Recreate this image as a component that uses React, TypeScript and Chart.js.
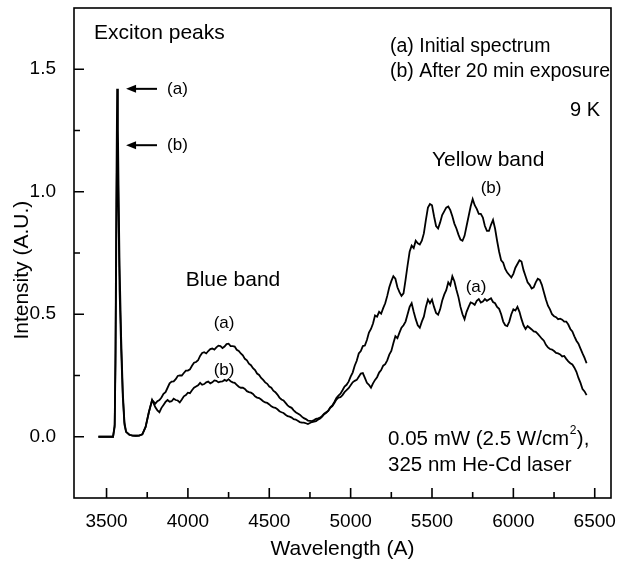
import { useEffect, useRef } from 'react';
import { Chart, registerables } from 'chart.js';

Chart.register(...registerables);

const FONT = '"Liberation Sans", Arial, Helvetica, sans-serif';

const WAVELENGTH = [
  3450, 3500, 3540, 3550, 3555, 3560, 3565, 3570, 3575, 3580, 3590, 3600, 3610, 3620, 3640, 3660, 3680, 3700, 3720, 3740, 3760, 3780,
  3800, 3812.5, 3825, 3837.5, 3850, 3862.5, 3875, 3887.5,
  3900, 3912.5, 3925, 3937.5, 3950, 3962.5, 3975, 3987.5,
  4000, 4012.5, 4025, 4037.5, 4050, 4062.5, 4075, 4087.5,
  4100, 4112.5, 4125, 4137.5, 4150, 4162.5, 4175, 4187.5,
  4200, 4212.5, 4225, 4237.5, 4250, 4262.5, 4275, 4287.5,
  4300, 4312.5, 4325, 4337.5, 4350, 4362.5, 4375, 4387.5,
  4400, 4412.5, 4425, 4437.5, 4450, 4462.5, 4475, 4487.5,
  4500, 4512.5, 4525, 4537.5, 4550, 4562.5, 4575, 4587.5,
  4600, 4612.5, 4625, 4637.5, 4650, 4662.5, 4675, 4687.5,
  4700, 4712.5, 4725, 4737.5, 4750, 4762.5, 4775, 4787.5,
  4800, 4812.5, 4825, 4837.5, 4850, 4862.5, 4875, 4887.5,
  4900, 4912.5, 4925, 4937.5, 4950, 4962.5, 4975, 4987.5,
  5000, 5012.5, 5025, 5037.5, 5050, 5062.5, 5075, 5087.5,
  5100, 5112.5, 5125, 5137.5, 5150, 5162.5, 5175, 5187.5,
  5200, 5212.5, 5225, 5237.5, 5250, 5262.5, 5275, 5287.5,
  5300, 5312.5, 5325, 5337.5, 5350, 5362.5, 5375, 5387.5,
  5400, 5412.5, 5425, 5437.5, 5450, 5462.5, 5475, 5487.5,
  5500, 5512.5, 5525, 5537.5, 5550, 5562.5, 5575, 5587.5,
  5600, 5612.5, 5625, 5637.5, 5650, 5662.5, 5675, 5687.5,
  5700, 5712.5, 5725, 5737.5, 5750, 5762.5, 5775, 5787.5,
  5800, 5812.5, 5825, 5837.5, 5850, 5862.5, 5875, 5887.5,
  5900, 5912.5, 5925, 5937.5, 5950, 5962.5, 5975, 5987.5,
  6000, 6012.5, 6025, 6037.5, 6050, 6062.5, 6075, 6087.5,
  6100, 6112.5, 6125, 6137.5, 6150, 6162.5, 6175, 6187.5,
  6200, 6212.5, 6225, 6237.5, 6250, 6262.5, 6275, 6287.5,
  6300, 6312.5, 6325, 6337.5, 6350, 6362.5, 6375, 6387.5,
  6400, 6412.5, 6425, 6437.5, 6450,
];

// (a) Initial spectrum
const SERIES_A = [
  0, 0, 0, 0.05, 0.35, 0.95, 1.42, 1.25, 0.95, 0.7, 0.4, 0.18, 0.06, 0.02, 0.008, 0.005, 0.004, 0.005, 0.01, 0.04, 0.1, 0.15,
  0.135, 0.145, 0.15, 0.16, 0.175, 0.182, 0.2, 0.218,
  0.225, 0.226, 0.235, 0.248, 0.25, 0.25, 0.26, 0.27,
  0.27, 0.275, 0.29, 0.302, 0.305, 0.312, 0.33, 0.342,
  0.345, 0.34, 0.35, 0.358, 0.36, 0.356, 0.365, 0.372,
  0.37, 0.362, 0.368, 0.378, 0.38, 0.37, 0.37, 0.368,
  0.355, 0.35, 0.34, 0.332, 0.318, 0.312, 0.298, 0.292,
  0.28, 0.272, 0.258, 0.252, 0.24, 0.232, 0.222, 0.216,
  0.205, 0.2, 0.188, 0.182, 0.172, 0.16, 0.152, 0.148,
  0.138, 0.128, 0.122, 0.118, 0.108, 0.1, 0.095, 0.09,
  0.082, 0.076, 0.072, 0.066, 0.065, 0.064, 0.068, 0.073,
  0.075, 0.078, 0.085, 0.094, 0.1, 0.106, 0.118, 0.125,
  0.138, 0.152, 0.16, 0.162, 0.17, 0.182, 0.19, 0.198,
  0.21, 0.222, 0.228, 0.232, 0.245, 0.258, 0.26, 0.24,
  0.22, 0.212, 0.2, 0.218, 0.232, 0.243, 0.262, 0.272,
  0.29, 0.296, 0.312, 0.335, 0.35, 0.382, 0.41, 0.402,
  0.425, 0.445, 0.455, 0.47, 0.5, 0.53, 0.545, 0.51,
  0.48, 0.455, 0.445, 0.47, 0.49, 0.53, 0.56, 0.545,
  0.56, 0.53, 0.505, 0.498, 0.52, 0.555, 0.58, 0.598,
  0.63, 0.618, 0.655, 0.635, 0.6, 0.57, 0.53, 0.5,
  0.48, 0.51, 0.53, 0.548, 0.545, 0.538, 0.555, 0.562,
  0.548, 0.552, 0.562, 0.555, 0.56, 0.565, 0.55, 0.545,
  0.53, 0.522, 0.5, 0.47, 0.455, 0.452, 0.47, 0.5,
  0.52, 0.515, 0.53, 0.51, 0.48, 0.455, 0.44, 0.452,
  0.445, 0.438, 0.43, 0.428, 0.42, 0.41, 0.4, 0.392,
  0.375, 0.365, 0.358, 0.356, 0.35, 0.342, 0.34, 0.336,
  0.328, 0.33, 0.318, 0.308, 0.3, 0.295, 0.282, 0.265,
  0.24, 0.22, 0.195, 0.185, 0.17,
];

// (b) After 20 min exposure
const SERIES_B = [
  0, 0, 0, 0.04, 0.3, 0.8, 1.2, 1.08, 0.84, 0.6, 0.35, 0.16, 0.05, 0.02, 0.008, 0.005, 0.004, 0.005, 0.01, 0.04, 0.1, 0.15,
  0.12, 0.108, 0.1, 0.118, 0.13, 0.142, 0.15, 0.143,
  0.145, 0.155, 0.15, 0.148, 0.14, 0.152, 0.165, 0.17,
  0.18, 0.178, 0.19, 0.2, 0.205, 0.21, 0.22, 0.212,
  0.215, 0.222, 0.225, 0.218, 0.222, 0.23, 0.228, 0.222,
  0.225, 0.226, 0.232, 0.228, 0.235, 0.226, 0.222, 0.22,
  0.212, 0.204, 0.2, 0.2, 0.195, 0.186, 0.182, 0.18,
  0.175, 0.165, 0.16, 0.158, 0.152, 0.145, 0.14, 0.138,
  0.132, 0.124, 0.12, 0.118, 0.112, 0.104, 0.1, 0.097,
  0.09, 0.084, 0.082, 0.078, 0.072, 0.07, 0.065, 0.06,
  0.058, 0.058, 0.055, 0.052, 0.056, 0.06, 0.062, 0.064,
  0.07, 0.074, 0.082, 0.092, 0.098, 0.106, 0.12, 0.128,
  0.142, 0.158, 0.168, 0.176, 0.19, 0.205, 0.212, 0.225,
  0.245, 0.262, 0.29, 0.31, 0.34, 0.35, 0.37, 0.372,
  0.395, 0.425, 0.44, 0.462, 0.495, 0.49, 0.51, 0.502,
  0.525, 0.545, 0.575, 0.61, 0.635, 0.655, 0.645, 0.61,
  0.59, 0.575, 0.585, 0.64, 0.7, 0.755, 0.78, 0.77,
  0.8, 0.79, 0.785, 0.8, 0.83, 0.885, 0.935, 0.95,
  0.945, 0.9, 0.86, 0.85, 0.875, 0.905, 0.92, 0.935,
  0.94, 0.925, 0.9, 0.87, 0.85, 0.825, 0.805, 0.8,
  0.82, 0.86, 0.9, 0.94, 0.97, 0.945, 0.93, 0.91,
  0.91, 0.895, 0.86, 0.84, 0.84, 0.865, 0.885, 0.85,
  0.8, 0.755, 0.72, 0.71, 0.685, 0.67, 0.66, 0.65,
  0.665, 0.69, 0.705, 0.72, 0.715, 0.68, 0.655, 0.63,
  0.62, 0.605, 0.61, 0.63, 0.645, 0.64, 0.62, 0.59,
  0.56, 0.535, 0.52, 0.5, 0.492, 0.488, 0.48, 0.482,
  0.478, 0.47, 0.47, 0.458, 0.44, 0.43, 0.41, 0.392,
  0.38, 0.36, 0.34, 0.322, 0.3,
];

const X_TICKS = [3500, 4000, 4500, 5000, 5500, 6000, 6500];
const Y_TICKS = [0, 0.5, 1.0, 1.5];
const X_MIN = 3300;
const X_MAX = 6600;
const Y_MIN = -0.25;
const Y_MAX = 1.75;

const Y_TITLE = { text: 'Intensity (A.U.)', y: 0.68, size: 21 };

type Note = { text: string; x: number; y: number; align: CanvasTextAlign; size: number };

const NOTES: Note[] = [
  { text: 'Exciton peaks', x: 3423, y: 1.647, align: 'left', size: 21 },
  { text: '(a) Initial spectrum', x: 5242, y: 1.594, align: 'left', size: 19.5 },
  { text: '(b) After 20 min exposure', x: 5242, y: 1.492, align: 'left', size: 19.5 },
  { text: '9 K', x: 6533, y: 1.333, align: 'right', size: 20 },
  { text: 'Yellow band', x: 5845, y: 1.129, align: 'center', size: 21 },
  { text: '(b)', x: 5863, y: 1.015, align: 'center', size: 17 },
  { text: '(a)', x: 5771, y: 0.611, align: 'center', size: 17 },
  { text: 'Blue band', x: 4277, y: 0.64, align: 'center', size: 21 },
  { text: '(a)', x: 4222, y: 0.465, align: 'center', size: 17 },
  { text: '(b)', x: 4222, y: 0.273, align: 'center', size: 17 },
  { text: '325 nm He-Cd laser', x: 5230, y: -0.118, align: 'left', size: 20.5 },
];

const ARROWS = [
  { label: '(a)', y: 1.42, from: 3810, to: 3620, textX: 3872 },
  { label: '(b)', y: 1.19, from: 3810, to: 3620, textX: 3872 },
];

const POWER_NOTE = { x: 5230, y: -0.012, size: 20.5 };

const font = (s: number) => `${s}px ${FONT}`;

const decorPlugin = {
  id: 'decor',
  afterDraw(chart: any) {
    const { ctx, chartArea: a, scales } = chart;
    const xs = scales.x;
    const ys = scales.y;
    ctx.save();
    ctx.strokeStyle = '#000';
    ctx.fillStyle = '#000';
    ctx.lineWidth = 1.6;
    ctx.strokeRect(a.left, a.top, a.right - a.left, a.bottom - a.top);
    const xt = xs.ticks.map((t: any) => t.value);
    const yt = ys.ticks.map((t: any) => t.value);
    ctx.beginPath();
    xt.forEach((v: number, i: number) => {
      const px = xs.getPixelForValue(v);
      ctx.moveTo(px, a.bottom);
      ctx.lineTo(px, a.bottom - 10);
      if (i < xt.length - 1) {
        const m = xs.getPixelForValue((v + xt[i + 1]) / 2);
        ctx.moveTo(m, a.bottom);
        ctx.lineTo(m, a.bottom - 6);
      }
    });
    yt.forEach((v: number, i: number) => {
      const py = ys.getPixelForValue(v);
      ctx.moveTo(a.left, py);
      ctx.lineTo(a.left + 10, py);
      if (i < yt.length - 1) {
        const m = ys.getPixelForValue((v + yt[i + 1]) / 2);
        ctx.moveTo(a.left, m);
        ctx.lineTo(a.left + 6, m);
      }
    });
    ctx.stroke();

    // y-axis title
    ctx.save();
    ctx.translate(22, ys.getPixelForValue(Y_TITLE.y));
    ctx.rotate(-Math.PI / 2);
    ctx.font = font(Y_TITLE.size);
    ctx.textAlign = 'center';
    ctx.textBaseline = 'middle';
    ctx.fillText(Y_TITLE.text, 0, 0);
    ctx.restore();

    ctx.textBaseline = 'middle';
    NOTES.forEach((n) => {
      ctx.font = font(n.size);
      ctx.textAlign = n.align;
      ctx.fillText(n.text, xs.getPixelForValue(n.x), ys.getPixelForValue(n.y));
    });

    {
      let px = xs.getPixelForValue(POWER_NOTE.x);
      const py = ys.getPixelForValue(POWER_NOTE.y);
      ctx.textAlign = 'left';
      ctx.font = font(POWER_NOTE.size);
      const s1 = '0.05 mW (2.5 W/cm';
      ctx.fillText(s1, px, py);
      px += ctx.measureText(s1).width;
      ctx.font = font(12);
      ctx.fillText('2', px + 0.5, py - 9);
      px += ctx.measureText('2').width + 1;
      ctx.font = font(POWER_NOTE.size);
      ctx.fillText('),', px, py);
    }

    ARROWS.forEach((ar) => {
      const py = ys.getPixelForValue(ar.y);
      const x1 = xs.getPixelForValue(ar.to);
      const x2 = xs.getPixelForValue(ar.from);
      ctx.lineWidth = 2;
      ctx.beginPath();
      ctx.moveTo(x1 + 6, py);
      ctx.lineTo(x2, py);
      ctx.stroke();
      ctx.beginPath();
      ctx.moveTo(x1, py);
      ctx.lineTo(x1 + 10, py - 4);
      ctx.lineTo(x1 + 10, py + 4);
      ctx.closePath();
      ctx.fill();
      ctx.font = font(17);
      ctx.textAlign = 'left';
      ctx.fillText(ar.label, xs.getPixelForValue(ar.textX), py);
    });
    ctx.restore();
  },
};

export default function App() {
  const ref = useRef<HTMLCanvasElement | null>(null);
  useEffect(() => {
    if (!ref.current) return;
    const mk = (vals: number[]) => WAVELENGTH.map((x, i) => ({ x, y: vals[i] }));
    const chart = new Chart(ref.current, {
      type: 'line',
      data: {
        datasets: [
          { label: '(a) Initial spectrum', data: mk(SERIES_A), borderColor: '#000', borderWidth: 1.8, pointRadius: 0, fill: false, tension: 0 },
          { label: '(b) After 20 min exposure', data: mk(SERIES_B), borderColor: '#000', borderWidth: 1.8, pointRadius: 0, fill: false, tension: 0 },
        ],
      },
      options: {
        animation: false,
        responsive: true,
        maintainAspectRatio: false,
        layout: { padding: { left: 0, right: 6, top: 8, bottom: 0 } },
        plugins: { legend: { display: false }, tooltip: { enabled: false } },
        scales: {
          x: {
            type: 'linear',
            min: X_MIN,
            max: X_MAX,
            afterBuildTicks: (s: any) => { s.ticks = X_TICKS.map((v) => ({ value: v })); },
            afterFit: (s: any) => { s.height = 76; s.paddingLeft = 0; s.paddingRight = 0; s.paddingTop = 0; s.paddingBottom = 0; },
            grid: { display: false, drawTicks: false },
            border: { display: false },
            ticks: { font: { size: 19, family: FONT }, color: '#000', padding: 12, maxRotation: 0, autoSkip: false, callback: (v: any) => String(v) },
            title: { display: true, text: 'Wavelength (A)', color: '#000', font: { size: 21, family: FONT }, padding: { top: 0, bottom: 12 } },
          },
          y: {
            type: 'linear',
            min: Y_MIN,
            max: Y_MAX,
            afterBuildTicks: (s: any) => { s.ticks = Y_TICKS.map((v) => ({ value: v })); },
            afterFit: (s: any) => { s.width = 74; s.paddingLeft = 0; s.paddingRight = 0; s.paddingTop = 0; s.paddingBottom = 0; },
            grid: { display: false, drawTicks: false },
            border: { display: false },
            ticks: { font: { size: 19, family: FONT }, color: '#000', padding: 18, autoSkip: false, callback: (v: any) => Number(v).toFixed(1) },
            title: { display: false, text: 'Intensity (A.U.)' },
          },
        },
      },
      plugins: [decorPlugin],
    });
    return () => chart.destroy();
  }, []);
  return (
    <div style={{ position: 'fixed', left: 0, top: 0, width: 617, height: 574, background: '#fff' }}>
      <canvas ref={ref} />
    </div>
  );
}
